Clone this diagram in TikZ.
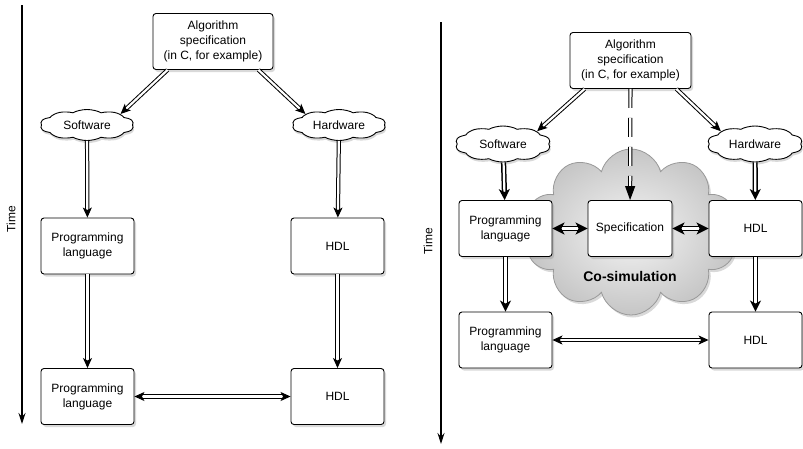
\documentclass[tikz,border=0pt]{standalone}
\usepackage{fontspec}
\setmainfont{Liberation Sans}
\usetikzlibrary{shapes,arrows.meta,shadows}

\begin{document}
\begin{tikzpicture}[x=1pt,y=-1pt]
\tikzstyle{box}=[draw,rounded corners=3pt,fill=white,align=center,line width=0.9pt,
  font=\fontsize{12}{15}\selectfont,minimum width=93pt,minimum height=56pt,
  drop shadow={opacity=0.3,shadow xshift=2pt,shadow yshift=-2.5pt}]
\tikzstyle{puff}=[draw,cloud,cloud puffs=10,cloud puff arc=100,cloud ignores aspect,fill=white,
  line width=0.9pt,inner sep=0pt,minimum width=47pt,minimum height=31pt,xscale=2,transform shape,
  drop shadow={opacity=0.3,shadow xshift=1pt,shadow yshift=-2.5pt}]
\tikzstyle{word}=[font=\fontsize{12}{14}\selectfont]
\tikzstyle{flow}=[double,double distance=2.2pt,line width=1pt,-{Stealth[length=10pt,width=9pt,inset=2.5pt]}]
\tikzstyle{bold flow}=[double,double distance=2.2pt,line width=1.5pt,-{Stealth[length=11pt,width=11pt,inset=3pt]}]
\tikzstyle{both}=[{Stealth[length=10pt,width=9pt,inset=2.5pt]}-{Stealth[length=10pt,width=9pt,inset=2.5pt]}]
\tikzstyle{bold both}=[{Stealth[length=12pt,width=12pt,inset=3pt]}-{Stealth[length=12pt,width=12pt,inset=3pt]}]
\tikzstyle{time}=[line width=1.2pt,-{Stealth[length=11pt,width=7pt]}]
\useasboundingbox (0,0) rectangle (803,448);

% left: separate design
\coordinate (ltop) at (22,5);
\coordinate (lbot) at (22,424);
\draw[time] (ltop) -- (lbot);
\node[rotate=90,word] (ltime) at (11,219) {Time};

\node[box,minimum width=120pt] (lalg) at (213,41.5) {Algorithm\\specification\\(in C, for example)};
\node[puff] (lsw) at (87,125) {};
\node[word] (lswt) at (lsw) {Software};
\node[puff] (lhw) at (339,125) {};
\node[word] (lhwt) at (lhw) {Hardware};
\node[box] (lpl1) at (87.5,246) {Programming\\language};
\node[box] (lhdl1) at (337.5,246) {HDL};
\node[box] (lpl2) at (87.5,396.5) {Programming\\language};
\node[box] (lhdl2) at (337.5,396.5) {HDL};

\draw[flow] (lalg.south west)+(15,0) -- (lsw.north east);
\draw[flow] (lalg.south east)+(-15,0) -- (lhw.north west);
\draw[flow] (lsw) -- (lpl1);
\draw[flow] (lhw) -- (lhdl1);
\draw[flow] (lpl1) -- (lpl2);
\draw[flow] (lhdl1) -- (lhdl2);
\draw[flow,both] (lpl2) -- (lhdl2);

% right: co-simulation
\coordinate (rtop) at (441,22);
\coordinate (rbot) at (441,444);
\draw[time] (rtop) -- (rbot);
\node[rotate=90,word] (rtime) at (428,241) {Time};

\node[cloud,cloud puffs=10,cloud ignores aspect,draw=gray!80,line width=0.8pt,
  inner color=gray!8,outer color=gray!45,minimum width=212pt,minimum height=166pt,
  drop shadow={opacity=0.3,shadow xshift=2pt,shadow yshift=-2.5pt}] (cosim) at (631,232) {};
\node[font=\bfseries\fontsize{14}{16}\selectfont] (cosimtxt) at (630,276) {Co-simulation};

\node[box,minimum width=121pt] (ralg) at (630.5,60.5) {Algorithm\\specification\\(in C, for example)};
\node[puff,minimum width=48pt,minimum height=36pt] (rsw) at (503,144) {};
\node[word] (rswt) at (rsw) {Software};
\node[puff,minimum width=48pt,minimum height=36pt] (rhw) at (755,144) {};
\node[word] (rhwt) at (rhw) {Hardware};
\node[box] (rpl1) at (505.5,228.5) {Programming\\language};
\node[box,minimum width=84pt] (spec) at (630,228.5) {Specification};
\node[box] (rhdl1) at (755.5,228.5) {HDL};
\node[box] (rpl2) at (505.5,340) {Programming\\language};
\node[box] (rhdl2) at (755.5,340) {HDL};

\draw[flow] (ralg.south west)+(15,0) -- (rsw.north east);
\draw[flow] (ralg.south east)+(-15,0) -- (rhw.north west);
\draw[double,double distance=2.2pt,line width=1pt,dash pattern=on 19pt off 10pt,
  -{Triangle[length=14pt,width=10pt]}] (ralg) -- (spec);
\draw[bold flow] (rsw) -- (rpl1);
\draw[bold flow] (rhw) -- (rhdl1);
\draw[bold flow] (rpl1) -- (rpl2);
\draw[bold flow] (rhdl1) -- (rhdl2);
\draw[bold flow,bold both] (rpl1) -- (spec);
\draw[bold flow,bold both] (spec) -- (rhdl1);
\draw[flow,both] (rpl2) -- (rhdl2);
\end{tikzpicture}
\end{document}
